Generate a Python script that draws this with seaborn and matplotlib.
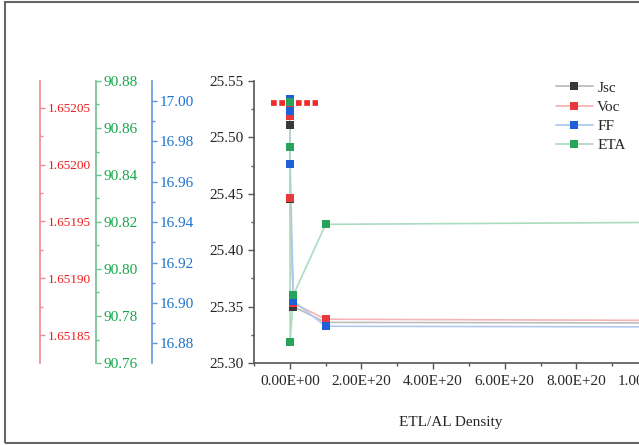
import matplotlib
matplotlib.use("Agg")
import matplotlib.pyplot as plt
import matplotlib.patches as mpatches
from matplotlib.lines import Line2D
from matplotlib.ticker import MultipleLocator, FuncFormatter
import seaborn as sns
import pandas as pd

# ---- data ----
density = [1e16, 1e17, 1e18, 1e19, 1e20, 1e21]
jsc = [25.525, 25.511, 25.445, 25.350, 25.336, 25.3355]
voc = [1.652050, 1.652043, 1.651971, 1.651878, 1.651864, 1.651863]
ff = [17.001, 16.995, 16.969, 16.901, 16.8885, 16.8882]
eta = [90.871, 90.852, 90.769, 90.789, 90.819, 90.8198]
series_names = ["Jsc", "Voc", "FF", "ETA"]
voc_band_x = [-0.536e20, 0.787e20]
voc_band_y = [1.652054, 1.652054]
x_label = "ETL/AL Density"

df = pd.DataFrame({"density": density, "Jsc": jsc, "Voc": voc, "FF": ff, "ETA": eta})

sns.set_style("ticks")
plt.rcParams["font.family"] = ["Liberation Serif", "DejaVu Serif"]

W, H = 639, 445
fig = plt.figure(figsize=(W / 100, H / 100), dpi=100)

def fx(px):
    return px / W

def fy(py):
    return 1 - py / H

left_px, right_px, top_px, bot_px = 254, 648, 81, 363
ax = fig.add_axes([fx(left_px), fy(bot_px), fx(right_px - left_px), (bot_px - top_px) / H])

full = {"Jsc": "#3a3a3a", "Voc": "#e8383d", "FF": "#1f5fd8", "ETA": "#27a35a"}
light = {"Jsc": "#bdbdbd", "Voc": "#f5b4b6", "FF": "#b0c8f0", "ETA": "#acdcbf"}
label_col = {"Voc": "#ee1c1c", "ETA": "#14a84a", "FF": "#1c74cc"}
spine_col = {"Voc": "#ef8a8c", "ETA": "#6cbf8e", "FF": "#6393dc"}
ylims = {"Jsc": (25.30, 25.55), "Voc": (1.6518255, 1.6520735),
         "FF": (16.8703, 17.0099), "ETA": (90.76, 90.88)}

ax_voc = ax.twinx()
ax_ff = ax.twinx()
ax_eta = ax.twinx()
line_axes = {"Jsc": ax, "Voc": ax_voc, "FF": ax_ff, "ETA": ax_eta}

# lines first
ax_voc.plot(voc_band_x, voc_band_y, color="#ee2a2a", linewidth=4.1,
            linestyle=(0, (1, 0.46)), dash_capstyle="butt", zorder=1)
for n in series_names:
    sns.lineplot(data=df, x="density", y=n, ax=line_axes[n], color=light[n],
                 linewidth=1.2, estimator=None, sort=False, legend=False)

# markers on top, in overlay axes sharing each series' scale
for n in series_names:
    m = ax.twinx()
    m.set_ylim(*ylims[n])
    m.axis("off")
    sns.lineplot(data=df, x="density", y=n, ax=m, color=full[n], linestyle="",
                 marker="s", markersize=5.2, markeredgewidth=0,
                 estimator=None, sort=False, legend=False)

# main axis
ax.set_xlim(-1e20, 1e21)
ax.set_ylim(*ylims["Jsc"])
ax.yaxis.set_major_locator(MultipleLocator(0.05))
ax.yaxis.set_minor_locator(MultipleLocator(0.025))
ax.yaxis.set_major_formatter(FuncFormatter(lambda v, p: f"{v:.2f}"))
ax.xaxis.set_major_locator(MultipleLocator(2e20))
ax.xaxis.set_minor_locator(MultipleLocator(1e20))
ax.xaxis.set_major_formatter(FuncFormatter(lambda v, p: f"{v:.2E}"))
for s in ["top", "right"]:
    ax.spines[s].set_visible(False)
for s in ["left", "bottom"]:
    ax.spines[s].set_color("#555555")
    ax.spines[s].set_linewidth(1.2)
ax.tick_params(axis="both", which="major", labelsize=11, length=4.5, width=1, color="#555555", pad=3)
ax.tick_params(axis="both", which="minor", length=2.5, width=1, color="#555555")
ax.tick_params(axis="x", which="major", pad=4)
ax.set_xlabel(x_label, fontsize=11, labelpad=20)
ax.set_ylabel("")

def style_twin(a, name, pos, major, minor, fmt, size):
    a.set_ylim(*ylims[name])
    for s in ["top", "left", "bottom"]:
        a.spines[s].set_visible(False)
    a.spines["right"].set_position(("axes", pos))
    a.spines["right"].set_color(spine_col[name])
    a.spines["right"].set_linewidth(1.2)
    a.yaxis.set_ticks_position("right")
    a.yaxis.set_major_locator(MultipleLocator(major))
    a.yaxis.set_minor_locator(MultipleLocator(minor))
    a.yaxis.set_major_formatter(FuncFormatter(lambda v, p: fmt.format(v)))
    a.tick_params(axis="y", which="major", labelsize=size, length=3.5, width=1,
                  color=spine_col[name], labelcolor=label_col[name], pad=2)
    a.tick_params(axis="y", which="minor", length=2.5, width=1, color=spine_col[name])
    a.set_ylabel("")

def pos_of(px):
    return (px - left_px) / (right_px - left_px)

style_twin(ax_voc, "Voc", pos_of(40), 0.00005, 0.000025, "{:.5f}", 9.5)
style_twin(ax_eta, "ETA", pos_of(96), 0.02, 0.01, "{:.2f}", 11)
style_twin(ax_ff, "FF", pos_of(152), 0.02, 0.01, "{:.2f}", 11)

# legend
handles = [Line2D([0], [0], color=light[n], lw=1.3, marker="s", markersize=5.2,
                  markerfacecolor=full[n], markeredgewidth=0) for n in series_names]
fig.legend(handles, series_names, loc="upper left", bbox_to_anchor=(fx(556), fy(81)),
           frameon=False, fontsize=11, handlelength=2.4, handletextpad=0.3,
           labelspacing=0.36, borderpad=0, borderaxespad=0)

# outer frame
fig.patches.append(mpatches.Rectangle((fx(5), fy(443)), 1.2, fy(1.5) - fy(443), fill=False,
                                      edgecolor="#666666", linewidth=1.5,
                                      transform=fig.transFigure, figure=fig, clip_on=False))

fig.savefig("out.png", dpi=100)
